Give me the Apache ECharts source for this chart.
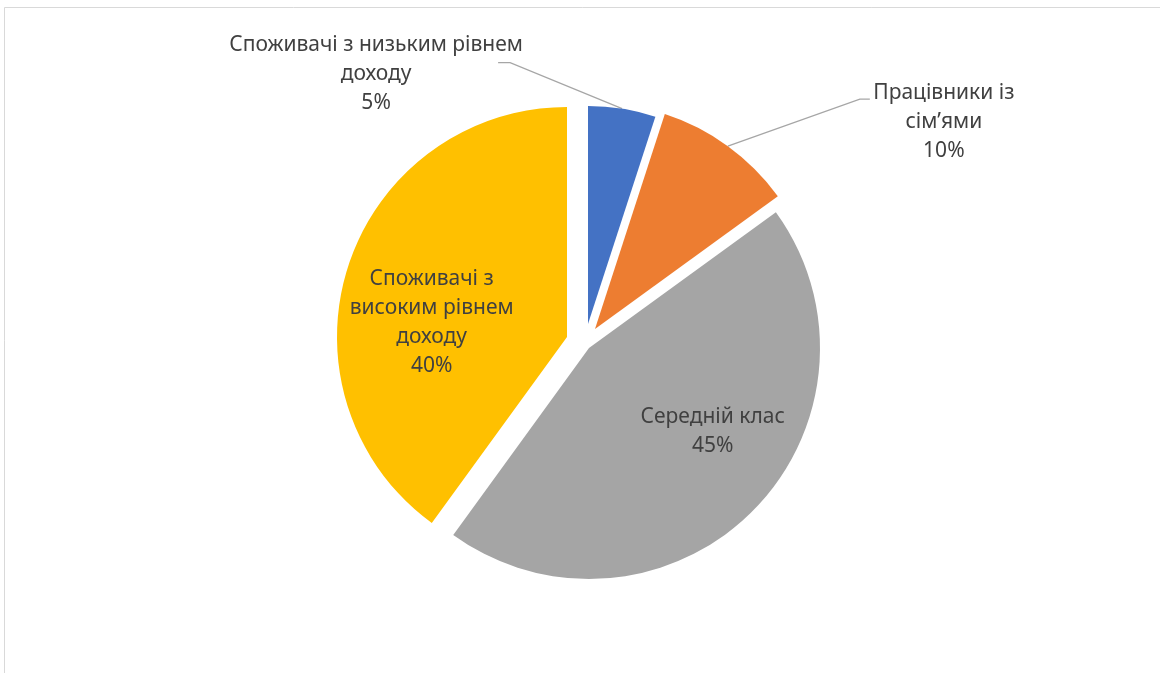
<!DOCTYPE html>
<html>
<head>
<meta charset="utf-8">
<script src="https://cdn.jsdelivr.net/npm/echarts@6/dist/echarts.min.js"></script>
<style>
  html, body { margin: 0; padding: 0; background: #ffffff; }
  #chart { width: 1160px; height: 673px; }
</style>
</head>
<body>
<div id="chart"></div>
<script>
// Segment names, their shares (%), and how each name is wrapped on the chart
const categories = [
  'Споживачі з низьким рівнем доходу',
  'Працівники із сім’ями',
  'Середній клас',
  'Споживачі з високим рівнем доходу'
];
const shares = [5, 10, 45, 40];
const labelLines = [
  ['Споживачі з низьким рівнем', 'доходу'],
  ['Працівники із', 'сім’ями'],
  ['Середній клас'],
  ['Споживачі з', 'високим рівнем', 'доходу']
];

const colors = ['#4472C4', '#ED7D31', '#A5A5A5', '#FFC000'];
const TEXT_COLOR = '#404040';
const FONT = '"Noto Sans", "Open Sans", sans-serif';
const FONT_SIZE = 21;
const LINE_HEIGHT = 29;

// Every wedge is drawn by its own pie so it can be pulled away from the middle on its own.
const wedges = [
  { center: [588, 324], radius: 218, position: 'outside', leader: [[-112, -46], [-12, 0]], textShift: [-122, 11] },
  { center: [595, 329], radius: 226, position: 'outside', leader: [[132, -47], [10, 0]], textShift: [74, 23] },
  { center: [589, 348], radius: 231, position: 'inside', textShift: [42, 2] },
  { center: [567, 337], radius: 230, position: 'inside', textShift: [-26, 21] }
];

const total = shares.reduce((a, b) => a + b, 0);
// angle of each wedge's bisector, clockwise from 12 o'clock, in radians
const midAngles = shares.map((v, i) => {
  const before = shares.slice(0, i).reduce((a, b) => a + b, 0);
  return (before + v / 2) / total * Math.PI * 2;
});

function makeSeries(w, i) {
  const dir = [Math.sin(midAngles[i]), -Math.cos(midAngles[i])];
  return {
    type: 'pie',
    name: categories[i],
    center: w.center,
    radius: w.radius,
    startAngle: 90,
    clockwise: true,
    animation: false,
    avoidLabelOverlap: false,
    data: categories.map((name, j) => ({
      name: name,
      value: shares[j],
      itemStyle: { color: colors[j], opacity: j === i ? 1 : 0 },
      label: { show: j === i },
      labelLine: { show: j === i && w.position === 'outside' }
    })),
    label: {
      position: w.position,
      formatter: (p) => labelLines[p.dataIndex].join('\n') + '\n' + Math.round(p.percent) + '%',
      color: TEXT_COLOR,
      fontFamily: FONT,
      fontSize: FONT_SIZE,
      lineHeight: LINE_HEIGHT,
      align: 'center'
    },
    labelLine: {
      length: 10,
      length2: 10,
      smooth: false,
      lineStyle: { color: '#A6A6A6', width: 1.3 }
    },
    emphasis: { disabled: true },
    labelLayout: (p) => {
      if (p.dataIndex !== i) return {};
      if (w.position === 'outside') {
        const a = [w.center[0] + w.radius * dir[0], w.center[1] + w.radius * dir[1]];
        const b = [a[0] + w.leader[0][0], a[1] + w.leader[0][1]];
        const c = [b[0] + w.leader[1][0], b[1] + w.leader[1][1]];
        return {
          x: c[0] + w.textShift[0],
          y: c[1] + w.textShift[1],
          align: 'center',
          verticalAlign: 'middle',
          labelLinePoints: [a, b, c]
        };
      }
      const m = [w.center[0] + w.radius * 0.5 * dir[0], w.center[1] + w.radius * 0.5 * dir[1]];
      return {
        x: m[0] + w.textShift[0],
        y: m[1] + w.textShift[1],
        align: 'center',
        verticalAlign: 'middle'
      };
    }
  };
}

const chart = echarts.init(document.getElementById('chart'), null, { renderer: 'canvas' });
chart.setOption({
  backgroundColor: '#ffffff',
  animation: false,
  graphic: [{
    type: 'rect',
    z: -10,
    shape: { x: 4.5, y: 7.5, width: 1200, height: 700 },
    style: { fill: 'none', stroke: '#D9D9D9', lineWidth: 1 }
  }],
  series: wedges.map(makeSeries)
});
</script>
</body>
</html>
